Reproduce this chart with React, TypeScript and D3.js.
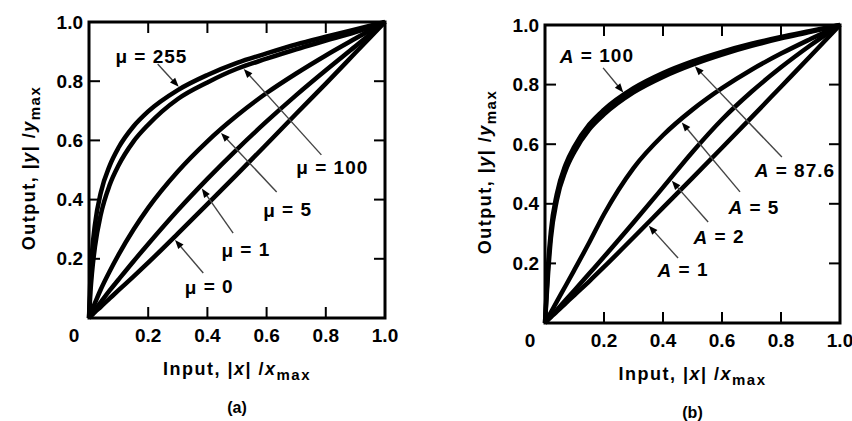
import React from 'react';
import * as d3 from 'd3';

// ---- data ----
const xs = [0, 0.005, 0.01, 0.02, 0.04, 0.07, 0.1, 0.15, 0.2, 0.3, 0.4, 0.5, 0.6, 0.7, 0.8, 0.9, 1];

// (a) mu-law curves
const mu255 = [0, 0.14, 0.22, 0.315, 0.424, 0.515, 0.576, 0.647, 0.698, 0.77, 0.821, 0.862, 0.894, 0.924, 0.95, 0.975, 1];
const mu100 = [0, 0.09, 0.152, 0.24, 0.35, 0.45, 0.516, 0.596, 0.653, 0.74, 0.796, 0.842, 0.876, 0.908, 0.937, 0.966, 1];
const mu5 = [0, 0.013, 0.026, 0.05, 0.097, 0.158, 0.214, 0.298, 0.372, 0.495, 0.597, 0.684, 0.76, 0.826, 0.887, 0.944, 1];
const mu1 = [0, 0.007, 0.014, 0.028, 0.054, 0.093, 0.13, 0.191, 0.25, 0.364, 0.47, 0.57, 0.664, 0.753, 0.837, 0.918, 1];
const mu0 = [0, 0.005, 0.01, 0.02, 0.038, 0.066, 0.094, 0.14, 0.187, 0.285, 0.385, 0.485, 0.587, 0.69, 0.792, 0.896, 1];

// (b) A-law curves
const a100 = [0, 0.095, 0.185, 0.308, 0.432, 0.532, 0.593, 0.666, 0.716, 0.788, 0.839, 0.878, 0.91, 0.937, 0.96, 0.98, 1];
const a876 = [0, 0.08, 0.16, 0.285, 0.412, 0.512, 0.575, 0.65, 0.7, 0.774, 0.826, 0.867, 0.901, 0.93, 0.955, 0.977, 1];
const a5 = [0, 0.009, 0.018, 0.036, 0.072, 0.125, 0.179, 0.27, 0.365, 0.52, 0.63, 0.716, 0.788, 0.85, 0.904, 0.953, 1];
const a2 = [0, 0.006, 0.011, 0.022, 0.044, 0.077, 0.11, 0.166, 0.222, 0.337, 0.455, 0.574, 0.683, 0.776, 0.858, 0.932, 1];
const a1 = [0, 0.005, 0.01, 0.02, 0.038, 0.066, 0.094, 0.14, 0.188, 0.287, 0.387, 0.487, 0.588, 0.69, 0.793, 0.896, 1];

const tickValues = [0.2, 0.4, 0.6, 0.8, 1.0];
const tickLabels = ['0.2', '0.4', '0.6', '0.8', '1.0'];

const muNames = ['255', '100', '5', '1', '0'];
const aNames = ['100', '87.6', '5', '2', '1'];

// ---- annotation layout (label centre, leader start, tip x in data units) ----
const muAnn = [
  { tx: 0.211, ty: 0.885, fx: 0.232, fy: 0.858, tipX: 0.309 },
  { tx: 0.822, ty: 0.51, fx: 0.785, fy: 0.551, tipX: 0.517 },
  { tx: 0.671, ty: 0.365, fx: 0.634, fy: 0.426, tipX: 0.44 },
  { tx: 0.53, ty: 0.23, fx: 0.487, fy: 0.287, tipX: 0.376 },
  { tx: 0.406, ty: 0.105, fx: 0.386, fy: 0.152, tipX: 0.285 },
];
const aAnn = [
  { tx: 0.176, ty: 0.896, fx: 0.197, fy: 0.856, tipX: 0.271 },
  { tx: 0.847, ty: 0.513, fx: 0.803, fy: 0.557, tipX: 0.502 },
  { tx: 0.708, ty: 0.389, fx: 0.661, fy: 0.44, tipX: 0.458 },
  { tx: 0.59, ty: 0.289, fx: 0.553, fy: 0.339, tipX: 0.424 },
  { tx: 0.468, ty: 0.178, fx: 0.451, fy: 0.218, tipX: 0.346 },
];

const FONT = '"Liberation Sans", Arial, Helvetica, sans-serif';
const FS = 19;

type PanelProps = {
  px0: number; px1: number; py0: number; py1: number;
  series: number[][];
  names: string[];
  ann: { tx: number; ty: number; fx: number; fy: number; tipX: number }[];
  sym: string;
  symItalic: boolean;
  sub: string;
};

function interp(vals: number[], x: number) {
  for (let i = 0; i < xs.length - 1; i++) {
    if (x >= xs[i] && x <= xs[i + 1]) {
      const t = (x - xs[i]) / (xs[i + 1] - xs[i]);
      return vals[i] + t * (vals[i + 1] - vals[i]);
    }
  }
  return vals[vals.length - 1];
}

function Panel({ px0, px1, py0, py1, series, names, ann, sym, symItalic, sub }: PanelProps) {
  const x = d3.scaleLinear().domain([0, 1]).range([px0, px1]);
  const y = d3.scaleLinear().domain([0, 1]).range([py0, py1]);
  const line = d3
    .line<number>()
    .x((_, i) => x(xs[i]))
    .y((d) => y(d))
    .curve(d3.curveMonotoneX);
  const TL = 11;
  const cx = (px0 + px1) / 2;
  const cy = (py0 + py1) / 2;
  return (
    <g fontFamily={FONT} fontWeight="bold" fill="#000">
      {/* curves */}
      {series.map((s, i) => (
        <path key={'c' + i} d={line(s) || ''} fill="none" stroke="#000" strokeWidth={4.5} />
      ))}
      {/* frame */}
      <rect x={px0} y={py1} width={px1 - px0} height={py0 - py1} fill="none" stroke="#000" strokeWidth={3} />
      {/* ticks */}
      {tickValues.slice(0, 4).map((t, i) => (
        <g key={'t' + i} stroke="#000" strokeWidth={2}>
          <line x1={x(t)} x2={x(t)} y1={py0} y2={py0 - TL} />
          <line x1={x(t)} x2={x(t)} y1={py1} y2={py1 + TL} />
          <line x1={px0} x2={px0 + TL} y1={y(t)} y2={y(t)} />
          <line x1={px1} x2={px1 - TL} y1={y(t)} y2={y(t)} />
        </g>
      ))}
      {/* tick labels */}
      {tickValues.map((t, i) => (
        <text key={'xl' + i} x={x(t)} y={py0 + 17} textAnchor="middle" dominantBaseline="central" fontSize={FS}>
          {tickLabels[i]}
        </text>
      ))}
      {tickValues.map((t, i) => (
        <text key={'yl' + i} x={px0 - 6} y={y(t)} textAnchor="end" dominantBaseline="central" fontSize={FS}>
          {tickLabels[i]}
        </text>
      ))}
      <text x={px0 - 15} y={py0 + 17} textAnchor="middle" dominantBaseline="central" fontSize={FS}>0</text>
      {/* axis titles */}
      <text x={cx} y={py0 + 51} textAnchor="middle" dominantBaseline="central" fontSize={18} letterSpacing={1.5}>
        Input, |<tspan fontStyle="italic">x</tspan>| /<tspan fontStyle="italic">x</tspan>
        <tspan fontSize={15} dy={5}>max</tspan>
      </text>
      <text
        transform={`translate(${px0 - 60},${cy - 2}) rotate(-90)`}
        textAnchor="middle"
        dominantBaseline="central"
        fontSize={18}
        letterSpacing={1.5}
      >
        Output, |<tspan fontStyle="italic">y</tspan>| /<tspan fontStyle="italic">y</tspan>
        <tspan fontSize={15} dy={5}>max</tspan>
      </text>
      <text x={cx} y={py0 + 89} textAnchor="middle" dominantBaseline="central" fontSize={16}>
        {sub}
      </text>
      {/* annotations */}
      {ann.map((a, i) => {
        const tx = x(a.tipX);
        const ty = y(interp(series[i], a.tipX));
        const sx = x(a.fx);
        const sy = y(a.fy);
        const dx = tx - sx;
        const dy = ty - sy;
        const L = Math.hypot(dx, dy);
        const ux = dx / L;
        const uy = dy / L;
        const ex = tx - ux * 2.6;
        const ey = ty - uy * 2.6;
        const nx = -uy;
        const ny = ux;
        const hl = 9;
        const hw = 3.5;
        const tri = `${ex},${ey} ${ex - ux * hl + nx * hw},${ey - uy * hl + ny * hw} ${ex - ux * hl - nx * hw},${ey - uy * hl - ny * hw}`;
        return (
          <g key={'a' + i}>
            <line x1={sx} y1={sy} x2={ex - ux * 6} y2={ey - uy * 6} stroke="#444" strokeWidth={1.4} />
            <polygon points={tri} fill="#000" />
            <text x={x(a.tx)} y={y(a.ty)} textAnchor="middle" dominantBaseline="central" fontSize={FS} letterSpacing={1}>
              <tspan fontStyle={symItalic ? 'italic' : 'normal'}>{sym}</tspan>
              {' = ' + names[i]}
            </text>
          </g>
        );
      })}
    </g>
  );
}

export default function App() {
  return (
    <svg
      width={852}
      height={421}
      viewBox="0 0 852 421"
      style={{ position: 'absolute', left: 0, top: 0, background: '#fff' }}
    >
      <rect x={0} y={0} width={852} height={421} fill="#fff" />
      <Panel
        px0={89}
        px1={385}
        py0={318}
        py1={22}
        series={[mu255, mu100, mu5, mu1, mu0]}
        names={muNames}
        ann={muAnn}
        sym="μ"
        symItalic={false}
        sub="(a)"
      />
      <Panel
        px0={545}
        px1={840}
        py0={323}
        py1={25}
        series={[a100, a876, a5, a2, a1]}
        names={aNames}
        ann={aAnn}
        sym="A"
        symItalic={true}
        sub="(b)"
      />
    </svg>
  );
}
